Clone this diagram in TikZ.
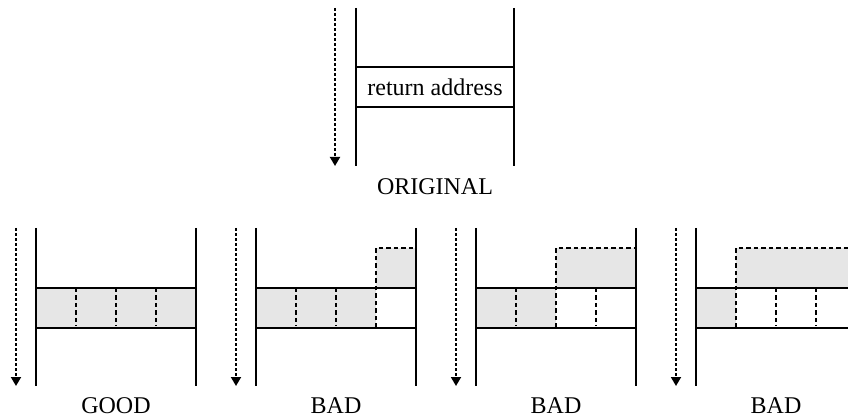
\documentclass[tikz,border=0pt]{standalone}
\usepackage{fontspec}
\setmainfont{Liberation Serif}
\usetikzlibrary{arrows.meta}
\definecolor{cellgray}{RGB}{230,230,230}
\begin{document}
\begin{tikzpicture}[x=1pt,y=-1pt,
  wall/.style={line width=1.7pt},
  sep/.style={line width=1.6pt, dash pattern=on 4.5pt off 3pt},
  flow/.style={line width=1.8pt, dash pattern=on 3pt off 2pt, -{Triangle[width=10pt,length=9pt]}},
  lab/.style={font=\fontsize{24}{26}\selectfont, inner sep=0pt},
  txt/.style={font=\fontsize{24}{26}\selectfont, inner sep=0pt}]
\useasboundingbox (0,0) rectangle (848,419);

% ---------- ORIGINAL ----------
\coordinate (oa1) at (335,8); \coordinate (oa2) at (335,166);
\draw[flow] (oa1) -- (oa2);
\draw[wall] (356,8) -- (356,166) (514,8) -- (514,166);
\draw[wall] (356,67) -- (514,67) (356,107) -- (514,107);
\node[txt] (ret) at (435,87) {return address};
\node[lab] (orig) at (435,187) {ORIGINAL};

% ---------- GOOD ----------
\fill[cellgray] (36,288) rectangle (196,328);
\coordinate (ga1) at (16,228); \coordinate (ga2) at (16,386);
\draw[flow] (ga1) -- (ga2);
\draw[wall] (36,228) -- (36,386) (196,228) -- (196,386);
\draw[wall] (36,288) -- (196,288) (36,328) -- (196,328);
\foreach \x in {76,116,156} \draw[sep] (\x,288) -- (\x,326);
\node[lab] (good) at (116,406) {GOOD};

% ---------- BAD 1 ----------
\fill[cellgray] (256,288) rectangle (376,328);
\fill[cellgray] (376,248) rectangle (416,288);
\coordinate (b1a1) at (236,228); \coordinate (b1a2) at (236,386);
\draw[flow] (b1a1) -- (b1a2);
\draw[sep] (376,328) -- (376,248) -- (416,248);
\draw[wall] (256,228) -- (256,386) (416,228) -- (416,386);
\draw[wall] (256,288) -- (416,288) (256,328) -- (416,328);
\foreach \x in {296,336} \draw[sep] (\x,288) -- (\x,326);
\node[lab] (bad1) at (336,406) {BAD};

% ---------- BAD 2 ----------
\fill[cellgray] (476,288) rectangle (556,328);
\fill[cellgray] (556,248) rectangle (636,288);
\coordinate (b2a1) at (456,228); \coordinate (b2a2) at (456,386);
\draw[flow] (b2a1) -- (b2a2);
\draw[sep] (556,328) -- (556,248) -- (636,248);
\draw[wall] (476,228) -- (476,386) (636,228) -- (636,386);
\draw[wall] (476,288) -- (636,288) (476,328) -- (636,328);
\foreach \x in {516,596} \draw[sep] (\x,288) -- (\x,326);
\node[lab] (bad2) at (556,406) {BAD};

% ---------- BAD 3 ----------
\fill[cellgray] (696,288) rectangle (736,328);
\fill[cellgray] (736,248) rectangle (848,288);
\coordinate (b3a1) at (676,228); \coordinate (b3a2) at (676,386);
\draw[flow] (b3a1) -- (b3a2);
\draw[sep] (736,328) -- (736,248) -- (848,248);
\draw[wall] (696,228) -- (696,386);
\draw[wall] (696,288) -- (848,288) (696,328) -- (848,328);
\foreach \x in {776,816} \draw[sep] (\x,288) -- (\x,326);
\node[lab] (bad3) at (776,406) {BAD};
\end{tikzpicture}
\end{document}
